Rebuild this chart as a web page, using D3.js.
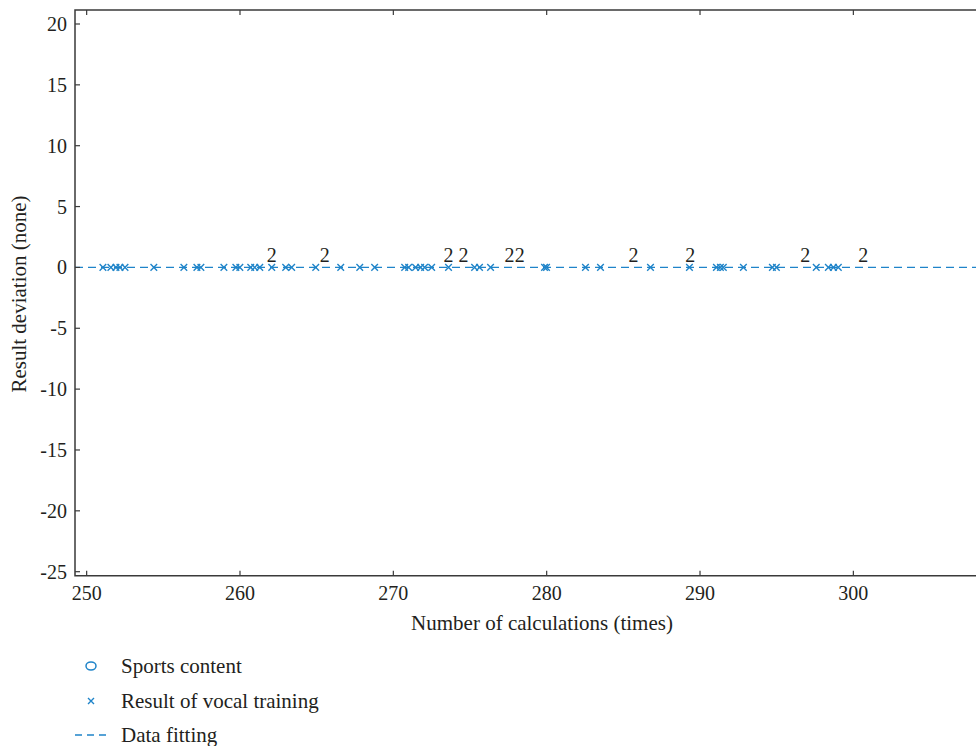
<!DOCTYPE html>
<html>
<head>
<meta charset="utf-8">
<script src="https://cdn.jsdelivr.net/npm/d3@7"></script>
<style>
  html, body { margin: 0; padding: 0; background: #fff; }
  svg { display: block; }
  text { font-family: "Liberation Serif", "DejaVu Serif", serif; fill: #231f20; }
</style>
</head>
<body>
<svg id="chart" width="976" height="746"></svg>
<script>
// ---- data ----
const xTicks = [250, 260, 270, 280, 290, 300];
const yTicks = [-25, -20, -15, -10, -5, 0, 5, 10, 15, 20];
const vocalX = [251.06, 251.58, 251.91, 252.17, 252.50, 254.38, 256.34, 257.19, 257.45, 258.95,
  259.73, 259.99, 260.70, 260.96, 261.29, 262.07, 262.98, 263.37, 264.94, 266.57,
  267.81, 268.78, 270.74, 271.00, 271.45, 271.78, 272.04, 272.50, 273.60, 275.30,
  275.62, 276.34, 279.86, 279.99, 282.53, 283.51, 286.77, 289.31, 291.07, 291.33,
  291.52, 292.83, 294.72, 294.98, 297.58, 298.37, 298.70, 299.02];
const vocalY = vocalX.map(() => 0);
const labelX = [262.07, 265.52, 273.60, 274.58, 277.58, 278.25, 285.66, 289.37, 296.86, 300.64];
const labelText = ["2", "2", "2", "2", "2", "2", "2", "2", "2", "2"];
const labelY = 1.0;
const fitX = [249.24, 310];
const fitY = [0, 0];
const legendItems = ["Sports content", "Result of vocal training", "Data fitting"];

// ---- layout ----
const svg = d3.select("#chart");
const mLeft = 75, mRight = 976 + 30, mTop = 10, mBottom = 575.7;
const x = d3.scaleLinear().domain([249.24, 308.0 + (30 / 15.35)]).range([mLeft, mRight]);
const y = d3.scaleLinear().domain([-25.33, 21.15]).range([mBottom, mTop]);
const blue = "#1f84c9";
const axisCol = "#3a3a3a";
const tickLen = 5;
const tickFont = 20, titleFont = 21;

const g = svg.append("g");

// dashed fit line
g.append("path")
  .datum(fitX.map((d, i) => [d, fitY[i]]))
  .attr("d", d3.line().x(d => x(d[0])).y(d => y(d[1])))
  .attr("fill", "none").attr("stroke", blue).attr("stroke-width", 1.4)
  .attr("stroke-dasharray", "8,5");

// x markers
const s = 3.3;
g.selectAll("path.xm").data(vocalX).enter().append("path")
  .attr("class", "xm")
  .attr("d", (d, i) => {
    const cx = x(d), cy = y(vocalY[i]);
    return `M${cx - s},${cy - s}L${cx + s},${cy + s}M${cx - s},${cy + s}L${cx + s},${cy - s}`;
  })
  .attr("stroke", blue).attr("stroke-width", 1.4).attr("fill", "none");

// labels
g.selectAll("text.lbl").data(labelX).enter().append("text")
  .attr("class", "lbl")
  .attr("x", d => x(d)).attr("y", y(labelY))
  .attr("text-anchor", "middle").attr("dy", "0.35em")
  .attr("font-size", tickFont).text((d, i) => labelText[i]);

// axes box
const axG = svg.append("g");
axG.append("path")
  .attr("d", `M${mRight},${mTop}H${mLeft}V${mBottom}H${mRight}`)
  .attr("fill", "none").attr("stroke", axisCol).attr("stroke-width", 1.5);

// x ticks (bottom and top, inward)
xTicks.forEach(t => {
  axG.append("line").attr("x1", x(t)).attr("x2", x(t)).attr("y1", mBottom).attr("y2", mBottom - tickLen)
    .attr("stroke", axisCol).attr("stroke-width", 1.2);
  axG.append("line").attr("x1", x(t)).attr("x2", x(t)).attr("y1", mTop).attr("y2", mTop + tickLen)
    .attr("stroke", axisCol).attr("stroke-width", 1.2);
  axG.append("text").attr("x", x(t)).attr("y", mBottom + 24)
    .attr("text-anchor", "middle").attr("font-size", tickFont).text(t);
});
yTicks.forEach(t => {
  axG.append("line").attr("x1", mLeft).attr("x2", mLeft + tickLen).attr("y1", y(t)).attr("y2", y(t))
    .attr("stroke", axisCol).attr("stroke-width", 1.2);
  axG.append("text").attr("x", mLeft - 8).attr("y", y(t)).attr("dy", "0.35em")
    .attr("text-anchor", "end").attr("font-size", tickFont).text(t);
});

// axis titles
svg.append("text").attr("x", 542).attr("y", 630).attr("text-anchor", "middle")
  .attr("font-size", titleFont).text("Number of calculations (times)");
svg.append("text").attr("transform", "translate(26,294) rotate(-90)")
  .attr("text-anchor", "middle").attr("font-size", titleFont).text("Result deviation (none)");

// legend
const lg = svg.append("g");
const lx = 91, ly = [666, 701, 735];
lg.append("ellipse").attr("cx", lx).attr("cy", ly[0]).attr("rx", 5).attr("ry", 4)
  .attr("fill", "none").attr("stroke", blue).attr("stroke-width", 1.5);
const ls = 3;
lg.append("path")
  .attr("d", `M${lx - ls},${ly[1] - ls}L${lx + ls},${ly[1] + ls}M${lx - ls},${ly[1] + ls}L${lx + ls},${ly[1] - ls}`)
  .attr("stroke", blue).attr("stroke-width", 1.4);
lg.append("line").attr("x1", 75).attr("x2", 110).attr("y1", ly[2]).attr("y2", ly[2])
  .attr("stroke", blue).attr("stroke-width", 1.4).attr("stroke-dasharray", "7,5");
legendItems.forEach((t, i) => {
  lg.append("text").attr("x", 121).attr("y", ly[i]).attr("dy", "0.33em")
    .attr("font-size", titleFont).text(t);
});
</script>
</body>
</html>
